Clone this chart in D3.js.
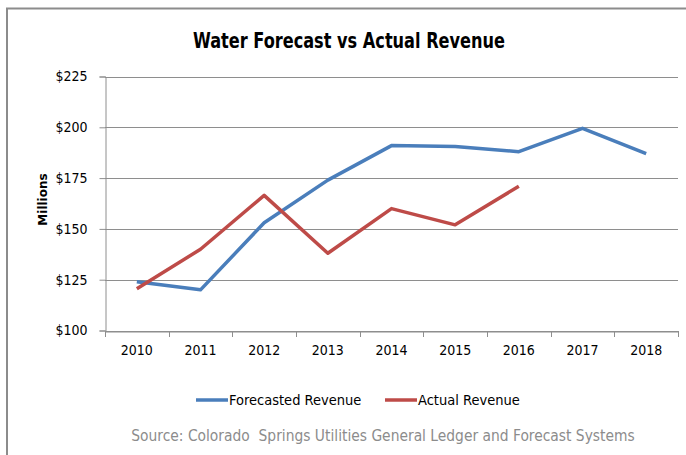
<!DOCTYPE html>
<html>
<head>
<meta charset="utf-8">
<script src="https://cdn.jsdelivr.net/npm/d3@7"></script>
<style>
  body { margin: 0; background: #fff; }
  svg { display: block; }
</style>
</head>
<body>
<script>
// chart data
const years = ["2010", "2011", "2012", "2013", "2014", "2015", "2016", "2017", "2018"];
const forecasted = [124, 120, 153, 174, 191, 190.5, 188, 199.5, 187];
const actual = [120.5, 140, 166.5, 138, 160, 152, 171];
const yTicks = [100, 125, 150, 175, 200, 225];

const width = 686;
const height = 455;
const marginLeft = 105;
const marginRight = 8;
const marginTop = 76.5;
const plotBottom = 330.5;
const font = "'Liberation Sans Narrow', 'DejaVu Sans Condensed', sans-serif";

const svg = d3.select("body").append("svg")
  .attr("width", width)
  .attr("height", height);

// outer frame (top + left edges visible)
svg.append("path")
  .attr("d", "M7,455 L7,8.5 L686,8.5")
  .attr("fill", "none")
  .attr("stroke", "#8c8c8c")
  .attr("stroke-width", 2);

const x = d3.scaleBand()
  .domain(years)
  .range([marginLeft, width - marginRight]);

const y = d3.scaleLinear()
  .domain([100, 225])
  .range([plotBottom, marginTop]);

// gridlines
svg.append("g")
  .selectAll("line")
  .data(yTicks)
  .join("line")
  .attr("x1", marginLeft)
  .attr("x2", width - marginRight)
  .attr("y1", d => Math.round(y(d)) + 0.5)
  .attr("y2", d => Math.round(y(d)) + 0.5)
  .attr("stroke", "#8e8e8e")
  .attr("stroke-width", 1);

// y axis
const yAxis = svg.append("g")
  .attr("transform", `translate(${marginLeft + 0.5},0)`)
  .call(d3.axisLeft(y).tickValues(yTicks).tickSize(6).tickFormat(d => "$" + d));
yAxis.select(".domain").attr("stroke", "#8e8e8e");
yAxis.selectAll(".tick line").attr("stroke", "#8e8e8e");
yAxis.selectAll("text")
  .attr("x", -18)
  .attr("font-family", font)
  .attr("font-size", 14)
  .attr("fill", "#000");

// x axis
const xAxis = svg.append("g")
  .attr("transform", `translate(0,${Math.round(plotBottom) + 0.5})`)
  .call(d3.axisBottom(x).tickSize(0));
xAxis.select(".domain").attr("stroke", "#8e8e8e");
xAxis.selectAll(".tick line").remove();
xAxis.selectAll("text")
  .attr("y", 14)
  .attr("dy", "0.71em")
  .attr("font-family", font)
  .attr("font-size", 14)
  .attr("fill", "#000");
// category boundary ticks
svg.append("g")
  .selectAll("line")
  .data(years.concat(["end"]))
  .join("line")
  .attr("x1", (d, i) => Math.round(marginLeft + i * x.step()) + 0.5)
  .attr("x2", (d, i) => Math.round(marginLeft + i * x.step()) + 0.5)
  .attr("y1", Math.round(plotBottom))
  .attr("y2", Math.round(plotBottom) + 6)
  .attr("stroke", "#8e8e8e");

// y axis title
svg.append("text")
  .attr("transform", `translate(47,${(marginTop + plotBottom) / 2 - 4}) rotate(-90)`)
  .attr("text-anchor", "middle")
  .attr("font-family", "'DejaVu Sans', sans-serif")
  .attr("font-weight", "bold")
  .attr("font-size", 12)
  .text("Millions");

// title
svg.append("text")
  .attr("x", 349)
  .attr("y", 48)
  .attr("text-anchor", "middle")
  .attr("font-family", font)
  .attr("font-weight", "bold")
  .attr("font-size", 21)
  .attr("textLength", 312)
  .attr("lengthAdjust", "spacingAndGlyphs")
  .text("Water Forecast vs Actual Revenue");

const cx = d => x(d) + x.bandwidth() / 2;
const line = d3.line()
  .x((d, i) => cx(years[i]))
  .y(d => y(d));

const series = [
  { name: "Forecasted Revenue", values: forecasted, color: "#4a7ebb" },
  { name: "Actual Revenue", values: actual, color: "#be4b48" }
];

svg.append("g")
  .selectAll("path")
  .data(series)
  .join("path")
  .attr("d", d => line(d.values))
  .attr("fill", "none")
  .attr("stroke", d => d.color)
  .attr("stroke-width", 3.5)
  .attr("stroke-linejoin", "round");

// legend
const legendX = [196, 385];
const legend = svg.append("g")
  .selectAll("g")
  .data(series)
  .join("g")
  .attr("transform", (d, i) => `translate(${legendX[i]},400)`);
legend.append("line")
  .attr("x1", 0).attr("x2", 32)
  .attr("stroke", d => d.color)
  .attr("stroke-width", 3.5);
legend.append("text")
  .attr("x", 33)
  .attr("dy", "0.35em")
  .attr("font-family", font)
  .attr("font-size", 14.5)
  .text(d => d.name);

// source note
svg.append("text")
  .attr("x", 383)
  .attr("y", 441)
  .attr("text-anchor", "middle")
  .attr("font-family", font)
  .attr("font-size", 15.4)
  .attr("fill", "#8c8c8c")
  .attr("xml:space", "preserve")
  .text("Source: Colorado  Springs Utilities General Ledger and Forecast Systems");
</script>
</body>
</html>
